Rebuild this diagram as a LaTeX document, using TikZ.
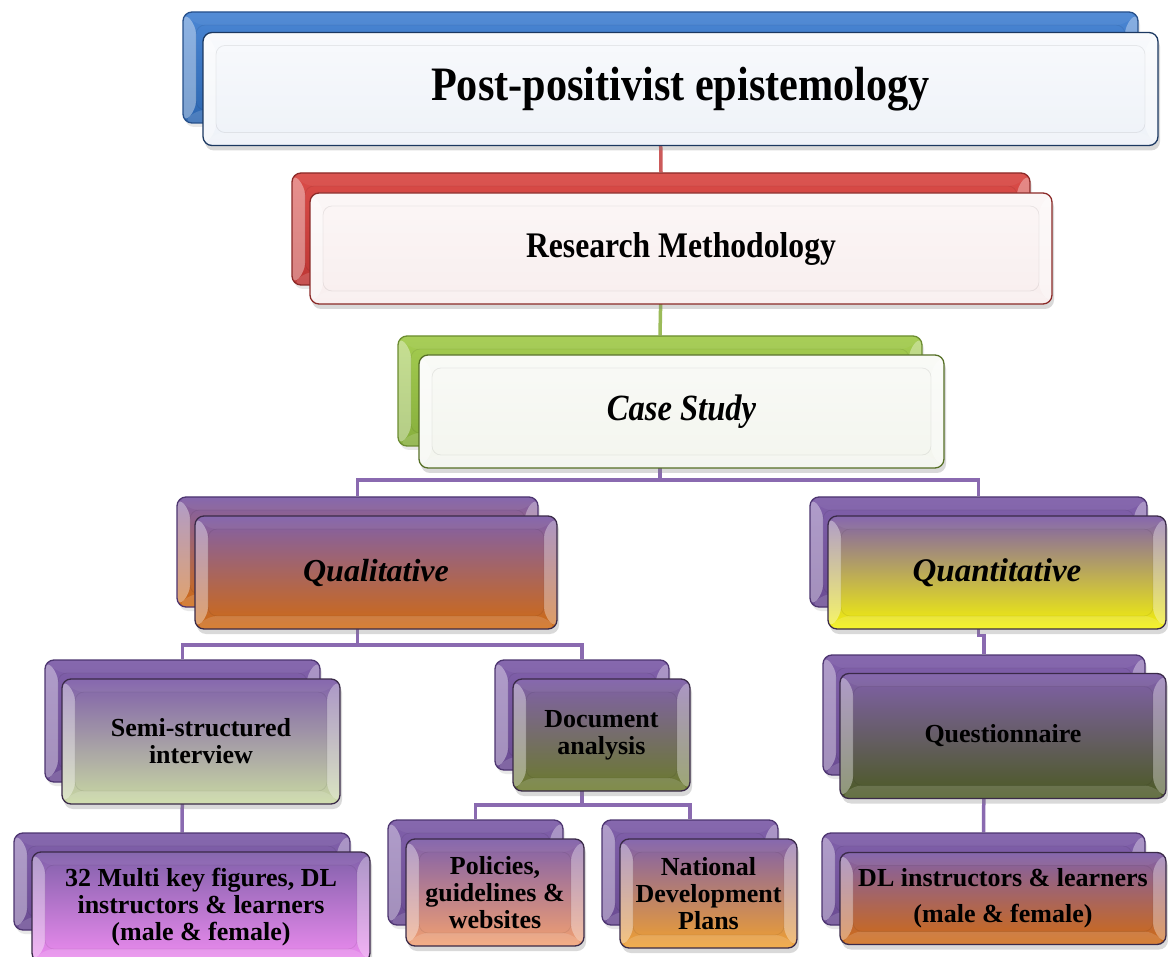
\documentclass[tikz,border=0pt]{standalone}
\usepackage{fontspec}
\setmainfont{Liberation Serif}
\newfontfamily\condserif{Liberation Serif}[FakeStretch=0.88]
\usetikzlibrary{calc,shadows}
\pgfdeclarelayer{bg}
\pgfsetlayers{bg,main}

% palette
\definecolor{blueTop}{HTML}{4A86D4}
\definecolor{blueBot}{HTML}{2C66B0}
\definecolor{blueLine}{HTML}{27508A}
\definecolor{redTop}{HTML}{DA4C48}
\definecolor{redBot}{HTML}{BE3634}
\definecolor{redLine}{HTML}{8B2A28}
\definecolor{grnTop}{HTML}{A4CC50}
\definecolor{grnBot}{HTML}{86AE3C}
\definecolor{grnLine}{HTML}{6B8C30}
\definecolor{purTop}{HTML}{8060AA}
\definecolor{purBot}{HTML}{6A4B92}
\definecolor{purLine}{HTML}{4D3570}
\definecolor{darkLine}{HTML}{3A2A48}
\definecolor{paleBlue}{HTML}{EEF2F8}
\definecolor{paleRed}{HTML}{F8EEEE}
\definecolor{paleGrn}{HTML}{F3F5EE}
\definecolor{orange}{HTML}{D06A12}
\definecolor{yellowB}{HTML}{F4F208}
\definecolor{sageB}{HTML}{C9D9A2}
\definecolor{oliveB}{HTML}{6A7A2A}
\definecolor{darkOlive}{HTML}{4B5A22}
\definecolor{pinkB}{HTML}{EE8CF0}
\definecolor{salmonB}{HTML}{F2A070}
\definecolor{amberB}{HTML}{F0A030}
\definecolor{linkRed}{HTML}{CC5A5A}
\definecolor{linkGrn}{HTML}{9BBB59}
\definecolor{linkPur}{HTML}{8A6AB0}

\tikzset{
  bevel/.style={path picture={
    \fill[white,opacity=.38] (path picture bounding box.north west) -- ++(#1,-#1)
      -- ($(path picture bounding box.south west)+(#1,#1)$) -- (path picture bounding box.south west) -- cycle;
    \fill[white,opacity=.34] (path picture bounding box.north east) -- ++(-#1,-#1)
      -- ($(path picture bounding box.south east)+(-#1,#1)$) -- (path picture bounding box.south east) -- cycle;
    \fill[white,opacity=.05] (path picture bounding box.north west) -- ++(#1,-#1)
      -- ($(path picture bounding box.north east)+(-#1,-#1)$) -- (path picture bounding box.north east) -- cycle;
    \fill[white,opacity=.15] (path picture bounding box.south west) -- ++(#1,#1)
      -- ($(path picture bounding box.south east)+(-#1,#1)$) -- (path picture bounding box.south east) -- cycle;
    \draw[black,opacity=.07,line width=.8]
      ($(path picture bounding box.north west)+(#1,-#1)$) rectangle ($(path picture bounding box.south east)+(-#1,#1)$);
  }},
  bevel/.default=13,
  box/.style={rounded corners=9, inner sep=0pt, line width=1.3, align=center, bevel},
  backbox/.style={box, drop shadow={shadow xshift=2, shadow yshift=-4, opacity=.18}},
  frontbox/.style={box, drop shadow={shadow xshift=2, shadow yshift=-5, opacity=.3}},
  purback/.style={backbox, top color=purTop, bottom color=purBot, draw=purLine},
  purfront/.style={frontbox, draw=darkLine, top color=purTop, middle color=purTop!55!#1, bottom color=#1},
  small/.style={font=\bfseries\fontsize{26}{27}\selectfont},
  link/.style={line width=3.5, line join=miter},
}

\begin{document}
\begin{tikzpicture}[x=1pt,y=1pt]
\useasboundingbox (0,0) rectangle (1168,-957);

% level 1: epistemology
\node[backbox, minimum width=955, minimum height=111, top color=blueTop, bottom color=blueBot, draw=blueLine] (titleback) at (660.5,-67.5) {};
\node[frontbox, minimum width=955, minimum height=113, top color=white!60!paleBlue, bottom color=paleBlue, draw=blueLine!70!black,
      font=\condserif\bfseries\fontsize{48}{52}\selectfont] (title) at (680.5,-89) {Post-positivist epistemology};

% level 2: methodology
\node[backbox, minimum width=738, minimum height=112, top color=redTop, bottom color=redBot, draw=redLine] (researchback) at (661,-229) {};
\node[frontbox, minimum width=742, minimum height=111, top color=white!50!paleRed, bottom color=paleRed, draw=redLine,
      font=\condserif\bfseries\fontsize{36}{40}\selectfont] (research) at (681,-248.5) {Research Methodology};

% level 3: design
\node[backbox, minimum width=524, minimum height=110, top color=grnTop, bottom color=grnBot, draw=grnLine] (caseback) at (660,-391) {};
\node[frontbox, minimum width=525, minimum height=113, top color=white!50!paleGrn, bottom color=paleGrn, draw=grnLine!80!black,
      font=\condserif\bfseries\itshape\fontsize{37}{40}\selectfont] (case) at (681.5,-411.5) {Case Study};

% level 4: strands
\node[backbox, minimum width=361, minimum height=110, top color=purTop, middle color=purTop!70!orange, bottom color=orange, draw=purLine] (qualback) at (357.5,-552) {};
\node[purfront=orange, minimum width=362, minimum height=113,
      font=\bfseries\itshape\fontsize{32}{34}\selectfont] (qual) at (376,-572.5) {Qualitative};

\node[purback, minimum width=337, minimum height=110] (quantback) at (978.5,-552) {};
\node[purfront=yellowB, minimum width=338, minimum height=113,
      font=\bfseries\itshape\fontsize{33}{35}\selectfont] (quant) at (997,-572.5) {Quantitative};

% level 5: instruments
\node[purback, minimum width=275, minimum height=122] (semiback) at (182.5,-721) {};
\node[purfront=sageB, small, minimum width=278, minimum height=125] (semi) at (201,-741.5) {Semi-structured\\interview};

\node[purback, minimum width=174, minimum height=110] (docback) at (582,-715) {};
\node[purfront=oliveB, small, minimum width=177, minimum height=112] (doc) at (601.5,-735) {Document\\analysis};

\node[purback, minimum width=322, minimum height=120] (questback) at (984,-715) {};
\node[purfront=darkOlive, small, minimum width=326, minimum height=125] (quest) at (1003,-736) {Questionnaire};

% level 6: sources
\node[purback, minimum width=336, minimum height=97] (multiback) at (182,-881.5) {};
\node[purfront=pinkB, small, minimum width=338, minimum height=110] (multi) at (201,-907) {32 Multi key figures, DL\\instructors \& learners\\(male \& female)};

\node[purback, minimum width=175, minimum height=105] (polback) at (475.5,-872.5) {};
\node[purfront=salmonB, small, minimum width=178, minimum height=107] (pol) at (495,-892.5) {Policies,\\guidelines \&\\websites};

\node[purback, minimum width=176, minimum height=105] (natback) at (690,-872.5) {};
\node[purfront=amberB, small, minimum width=177, minimum height=109] (nat) at (708.5,-893.5) {National\\Development\\Plans};

\node[purback, minimum width=323, minimum height=92] (dlback) at (983.5,-879) {};
\node[purfront=orange, font=\bfseries\fontsize{26}{36}\selectfont, minimum width=326, minimum height=92] (dl) at (1003,-898.5) {DL instructors \& learners\\(male \& female)};

% connectors, behind all boxes
\coordinate (busA) at (0,-480);
\coordinate (busB) at (0,-645);
\coordinate (busC) at (0,-805);
\begin{pgfonlayer}{bg}
  \draw[link, linkRed] (titleback.south) -- (researchback.north);
  \draw[link, linkGrn] (researchback.south) -- (caseback.north);
  \draw[link, linkPur] (caseback.south) |- (qualback.north |- busA) -- (qualback.north);
  \draw[link, linkPur] (caseback.south) |- (quantback.north |- busA) -- (quantback.north);
  \draw[link, linkPur] (qualback.south) |- (semiback.north |- busB) -- (semiback.north);
  \draw[link, linkPur] (qualback.south) |- (docback.north |- busB) -- (docback.north);
  \draw[link, linkPur] (docback.south) |- (polback.north |- busC) -- (polback.north);
  \draw[link, linkPur] (docback.south) |- (natback.north |- busC) -- (natback.north);
  \draw[link, linkPur] (semiback.south) -- (multiback.north);
  \draw[link, linkPur] (quantback.south) -- ++(0,-28) -| (questback.north);
  \draw[link, linkPur] (questback.south) -- (dlback.north);
\end{pgfonlayer}
\end{tikzpicture}
\end{document}
